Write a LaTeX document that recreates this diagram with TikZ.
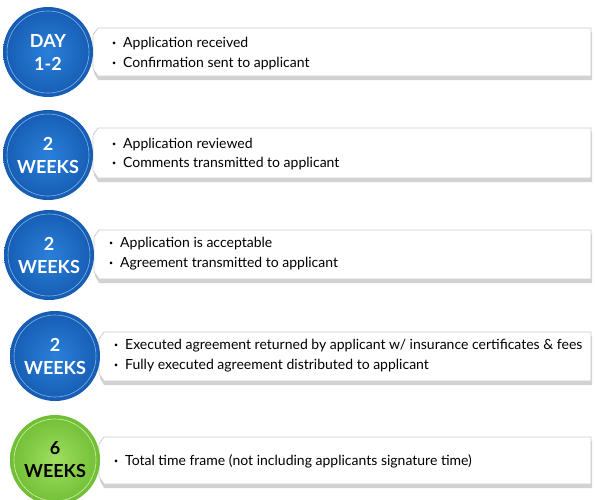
\documentclass[tikz,border=0pt]{standalone}
\usepackage{fontspec}
\setmainfont{Lato}
\usetikzlibrary{positioning}
\definecolor{bluein}{RGB}{42,128,218}
\definecolor{blueout}{RGB}{22,92,178}
\definecolor{greenin}{RGB}{160,222,98}
\definecolor{greenout}{RGB}{112,190,52}
\newcommand{\itm}{\makebox[11pt][l]{\raisebox{0.25ex}{\scalebox{0.5}{\textbullet}}}}
\begin{document}
\begin{tikzpicture}[x=1pt,y=-1pt,
  stamp/.style={circle,minimum size=90pt,inner sep=0pt,align=center,font=\bfseries\fontsize{18}{23}\selectfont},
  bluestamp/.style={stamp,text=white,inner color=bluein,outer color=blueout},
  greenstamp/.style={stamp,text=black,inner color=greenin,outer color=greenout},
  bluering/.style={draw=bluein!60!white,line width=0.6pt},
  greenring/.style={draw=greenin!50!white,line width=0.6pt},
  tab/.style={fill=white,draw=gray!40,line width=0.8pt},
  tabshadow/.style={fill=gray!35,draw=none},
  notes/.style={anchor=west,align=left,inner sep=0pt,font=\fontsize{14}{19.5}\selectfont}]
\useasboundingbox (0,0) rectangle (595,499);

%Shape: Tab 1
\fill[tabshadow] (98,32) -- (592,32) -- (592,80) -- (98,80) -- (94,73) -- (94,39) -- cycle ;
\draw[tab] (98,28) -- (591,28) -- (591,76) -- (98,76) -- (93,69) -- (93,35) -- cycle ;
%Shape: Tab 2
\fill[tabshadow] (98,132) -- (592,132) -- (592,182) -- (98,182) -- (94,175) -- (94,139) -- cycle ;
\draw[tab] (98,128) -- (591,128) -- (591,178) -- (98,178) -- (93,171) -- (93,135) -- cycle ;
%Shape: Tab 3
\fill[tabshadow] (99,234) -- (592,234) -- (592,283) -- (99,283) -- (95,276) -- (95,241) -- cycle ;
\draw[tab] (99,230) -- (591,230) -- (591,279) -- (99,279) -- (94,272) -- (94,237) -- cycle ;
%Shape: Tab 4
\fill[tabshadow] (104,336) -- (592,336) -- (592,385) -- (104,385) -- (100,378) -- (100,343) -- cycle ;
\draw[tab] (104,332) -- (591,332) -- (591,381) -- (104,381) -- (99,374) -- (99,339) -- cycle ;
%Shape: Tab 5
\fill[tabshadow] (104,441) -- (592,441) -- (592,488) -- (104,488) -- (100,481) -- (100,448) -- cycle ;
\draw[tab] (104,437) -- (591,437) -- (591,484) -- (104,484) -- (99,477) -- (99,444) -- cycle ;

%Shape: Circles
\node[bluestamp] (day) at (48,52) {DAY\\1-2};
\draw[bluering] (day) circle[radius=41];
\node[bluestamp] (review) at (48,155) {2\\WEEKS};
\draw[bluering] (review) circle[radius=41];
\node[bluestamp] (accept) at (49,255) {2\\WEEKS};
\draw[bluering] (accept) circle[radius=41];
\node[bluestamp] (execute) at (55,356) {2\\WEEKS};
\draw[bluering] (execute) circle[radius=41];
\node[greenstamp] (total) at (55,460) {6\\WEEKS};
\draw[greenring] (total) circle[radius=41];

% Text Node
\node[notes] (dayNotes) at (112,53.5) {\itm Application received\\\itm Confirmation sent to applicant};
% Text Node
\node[notes] (reviewNotes) at (112,154) {\itm Application reviewed\\\itm Comments transmitted to applicant};
% Text Node
\node[notes] (acceptNotes) at (109,253.5) {\itm Application is acceptable\\\itm Agreement transmitted to applicant};
% Text Node
\node[notes] (executeNotes) at (114,355.5) {\itm Executed agreement returned by applicant w/ insurance certificates \& fees\\\itm Fully executed agreement distributed to applicant};
% Text Node
\node[notes] (totalNotes) at (114,461) {\itm Total time frame (not including applicants signature time)};

\end{tikzpicture}
\end{document}
